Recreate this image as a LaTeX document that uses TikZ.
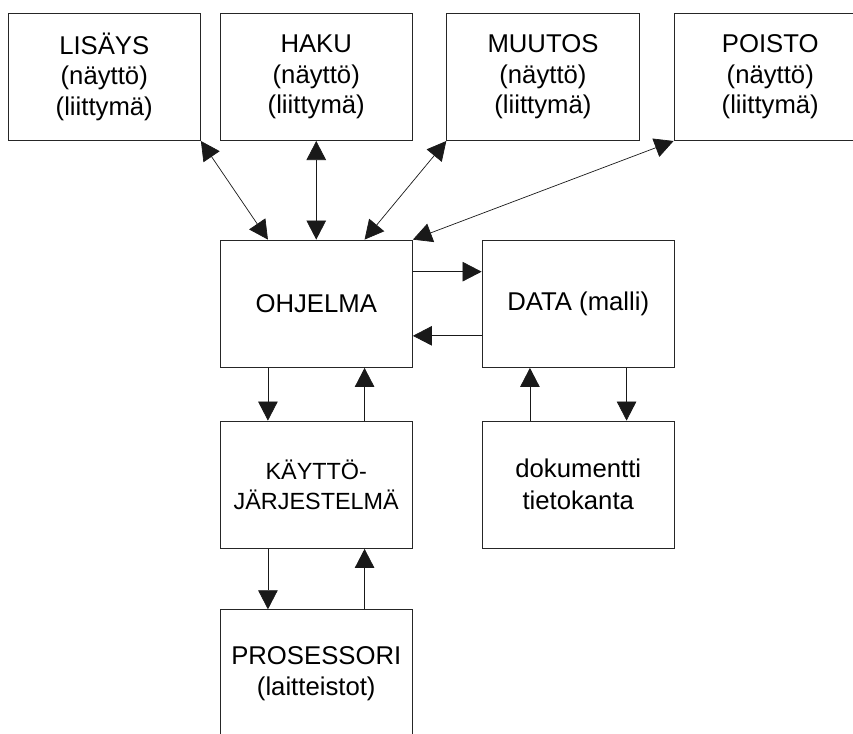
\documentclass[tikz,border=0pt]{standalone}
\usepackage{fontspec}
\setmainfont{Liberation Sans}
\usetikzlibrary{arrows.meta,calc}
\begin{document}
\begin{tikzpicture}[x=1pt,y=-1pt,
  box/.style={draw=black!85, line width=0.8pt, minimum width=192.5pt, minimum height=127.5pt,
    inner sep=0pt, align=center, font=\fontsize{25.7}{30.5}\selectfont},
  smallbox/.style={box, font=\fontsize{23.4}{30}\selectfont},
  conn/.style={line width=0.7pt, draw=black!90},
  tip/.tip={Triangle[length=19pt,width=19.5pt]},
  one/.style={conn, -tip},
  both/.style={conn, tip-tip}]
\clip (0,0) rectangle (853,733);
\fill[white] (0,0) rectangle (853,733);
\node[box] (lisays) at (104.25,76.85) {LISÄYS\\(näyttö)\\(liittymä)};
\node[box] (haku) at (316.25,76.85) {HAKU\\(näyttö)\\(liittymä)};
\node[box] (muutos) at (542.95,76.85) {MUUTOS\\(näyttö)\\(liittymä)};
\node[box] (poisto) at (770.25,76.85) {POISTO\\(näyttö)\\(liittymä)};
\node[box] (ohjelma) at (316.25,303.75) {OHJELMA};
\node[box] (data) at (578.25,303.75) {DATA (malli)};
\node[smallbox] (kaytto) at (316.25,484.75) {KÄYTTÖ-\\JÄRJESTELMÄ};
\node[box, font=\fontsize{25.7}{32}\selectfont] (dok) at (578.25,484.75) {dokumentti\\tietokanta};
\node[box, font=\fontsize{25.7}{31.5}\selectfont] (proc) at (316.25,673.45) {PROSESSORI\\(laitteistot)};
% top connectors
\draw[both] (lisays.south east) -- ($(ohjelma.north west)!0.25!(ohjelma.north east)$);
\draw[both] (haku.south) -- (ohjelma.north);
\draw[both] (muutos.south west) -- ($(ohjelma.north west)!0.75!(ohjelma.north east)$);
\draw[both] (poisto.south west) -- (ohjelma.north east);
% ohjelma <-> data
\draw[one] ($(ohjelma.north east)!0.25!(ohjelma.south east)$) -- ($(data.north west)!0.25!(data.south west)$);
\draw[one] ($(data.north west)!0.75!(data.south west)$) -- ($(ohjelma.north east)!0.75!(ohjelma.south east)$);
% ohjelma <-> kaytto
\draw[one] ($(ohjelma.south west)!0.25!(ohjelma.south east)$) -- ($(kaytto.north west)!0.25!(kaytto.north east)$);
\draw[one] ($(kaytto.north west)!0.75!(kaytto.north east)$) -- ($(ohjelma.south west)!0.75!(ohjelma.south east)$);
% data <-> dok
\draw[one] ($(dok.north west)!0.25!(dok.north east)$) -- ($(data.south west)!0.25!(data.south east)$);
\draw[one] ($(data.south west)!0.75!(data.south east)$) -- ($(dok.north west)!0.75!(dok.north east)$);
% kaytto <-> proc
\draw[one] ($(kaytto.south west)!0.25!(kaytto.south east)$) -- ($(proc.north west)!0.25!(proc.north east)$);
\draw[one] ($(proc.north west)!0.75!(proc.north east)$) -- ($(kaytto.south west)!0.75!(kaytto.south east)$);
\end{tikzpicture}
\end{document}
